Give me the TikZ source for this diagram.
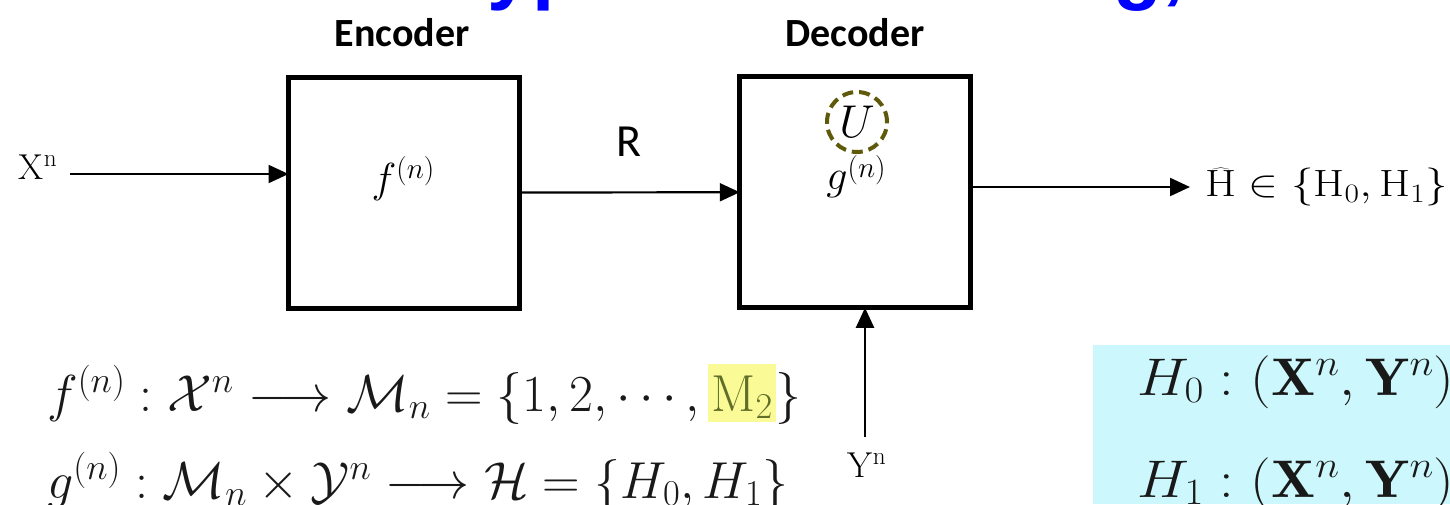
\RequirePackage{fix-cm}
\documentclass[tikz,border=0pt]{standalone}
\usepackage{fontspec}
\newfontfamily\carlito{Carlito}
\newfontfamily\titlefont{Liberation Sans}
\usetikzlibrary{arrows.meta}
\definecolor{titleblue}{RGB}{0,0,255}
\definecolor{olivedash}{RGB}{95,90,10}
\definecolor{hlyellow}{RGB}{250,250,150}
\definecolor{mtwo}{RGB}{95,110,40}
\definecolor{cyanbg}{RGB}{204,247,252}
\definecolor{mathink}{RGB}{25,25,25}
\newcommand\supn[1]{\raisebox{#1}{$\scriptstyle(n)$}}
\begin{document}
\begin{tikzpicture}[x=1pt,y=-1pt,
  blockbox/.style={draw,line width=5pt,minimum width=230.5pt,minimum height=231pt,inner sep=0pt,outer sep=0pt},
  arr/.style={line width=2.2pt,-{Triangle[length=20pt,width=18pt]}},
  hdr/.style={font=\carlito\bfseries\fontsize{40}{44}\selectfont,inner sep=0pt},
  sig/.style={font=\fontsize{36}{40}\selectfont,inner sep=0pt},
  fun/.style={font=\fontsize{42}{48}\selectfont,inner sep=0pt,anchor=base},
  bigmath/.style={font=\fontsize{52}{60}\selectfont,inner sep=0pt,anchor=base west,text=mathink},
  every node/.style={inner sep=0pt}]
\useasboundingbox (0,0) rectangle (1450,504);
\begin{scope}
\clip (0,0) rectangle (1450,504);
% title (cut off at top)
\node[anchor=base west,font=\titlefont\bfseries\fontsize{80}{90}\selectfont,text=titleblue] (title) at (430,-6) {Hypothesis Testing,};
% cyan panel
\fill[cyanbg] (1093,345) rectangle (1450,504);
\node[bigmath,font=\fontsize{53}{60}\selectfont,xscale=1.1] (h0) at (1137,395) {$H_0 : (\mathbf{X}^n, \mathbf{Y}^n)$};
\node[bigmath,font=\fontsize{53}{60}\selectfont,xscale=1.1] (h1) at (1137,497) {$H_1 : (\mathbf{X}^n, \mathbf{Y}^n)$};
% formulas
\node[bigmath] (fdef) at (47,411) {$f^{(n)} : \mathcal{X}^n \longrightarrow \mathcal{M}_n = \{1, 2, \cdots, {\setlength\fboxsep{3pt}\colorbox{hlyellow}{\rule[-0.05em]{0pt}{0.9em}$\color{mtwo}\mathrm{M}_2$}}\}$};
\node[bigmath] (gdef) at (47,498) {$g^{(n)} : \mathcal{M}_n \times \mathcal{Y}^n \longrightarrow \mathcal{H} = \{H_0, H_1\}$};
\end{scope}
% headers
\node[hdr] (enclab) at (402,33) {Encoder};
\node[hdr] (declab) at (855,33) {Decoder};
% blocks
\node[blockbox] (enc) at (403.75,192.5) {};
\node[blockbox] (dec) at (855,192.25) {};
\node[fun] (f) at (403,192) {$f\supn{0.33em}$};
\node[fun] (g) at (856,189) {$g\supn{0.27em}$};
\node[circle,draw=olivedash,line width=4pt,dash pattern=on 11pt off 6pt,minimum size=60pt,font=\fontsize{46}{50}\selectfont] (u) at (857,122) {$U$};
% signals
\node[sig] (xn) at (38,167) {$\mathrm{X}^{\mathrm{n}}$};
\coordinate (xs) at (70,174);
\draw[arr] (xs) -- (xs -| enc.west);
\node[font=\carlito\fontsize{46}{50}\selectfont] (r) at (629,142) {R};
\draw[arr] (enc.east) -- (dec.west);
\coordinate (oe) at (1190,187);
\draw[arr] (oe -| dec.east) -- (oe);
\node[anchor=west,font=\fontsize{38}{42}\selectfont,xscale=1.18] (hhat) at (1205,187) {$\widehat{\mathrm{H}} \in \{\mathrm{H}_0, \mathrm{H}_1\}$};
\coordinate (ys) at (865,437);
\draw[arr] (ys) -- (ys |- dec.south);
\node[sig] (yn) at (867,465) {$\mathrm{Y}^{\mathrm{n}}$};
\end{tikzpicture}
\end{document}
